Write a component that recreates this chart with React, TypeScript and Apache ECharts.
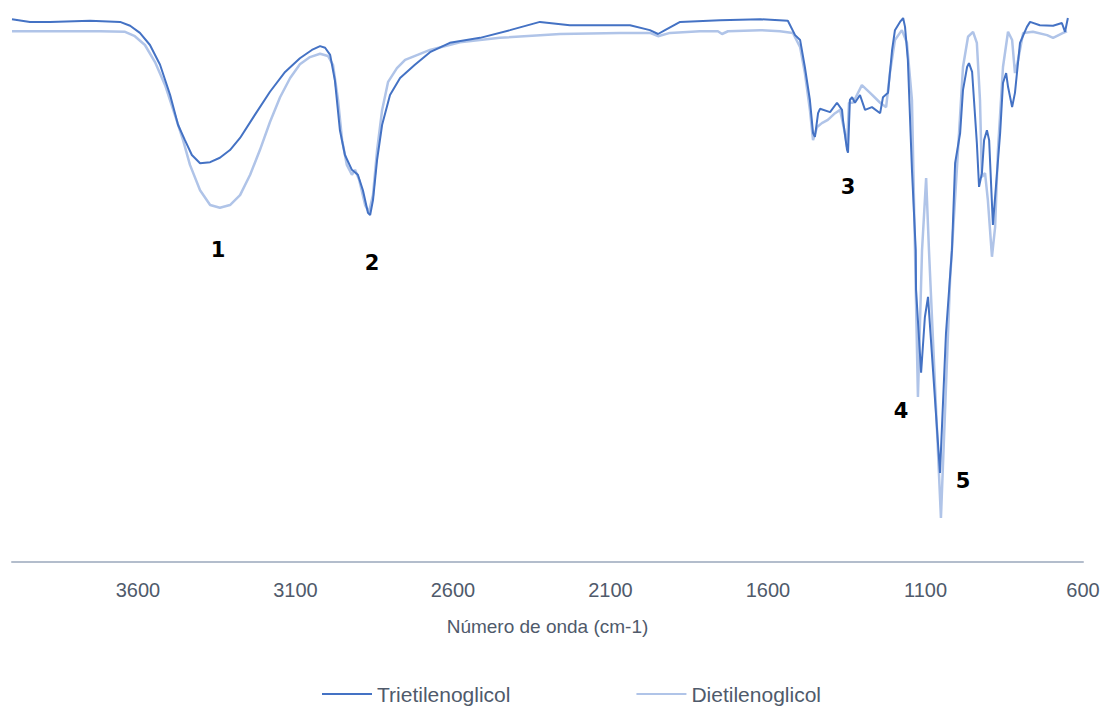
import React, { useEffect, useRef } from "react";
import * as echarts from "echarts";

// Trietilenoglicol (wavenumber cm-1, transmittance %)
const trietWavenumber = [
  4000, 3943, 3879, 3752, 3657, 3625, 3594, 3562, 3530, 3498, 3473, 3451, 3429, 3403, 3371, 3340, 3308, 3276, 3229, 3181,
  3133, 3086, 3048, 3022, 3006, 2990, 2975, 2959, 2943, 2921, 2902, 2886, 2870, 2863, 2854, 2841, 2825, 2800, 2768, 2721,
  2673, 2610, 2514, 2419, 2324, 2229, 2133, 2038, 1975, 1949, 1927, 1879, 1752, 1625, 1537, 1514, 1498, 1483, 1467, 1457,
  1451, 1441, 1435, 1403, 1381, 1365, 1362, 1349, 1346, 1340, 1333, 1324, 1308, 1292, 1270, 1244, 1235, 1219, 1206, 1197,
  1181, 1171, 1165, 1156, 1143, 1131, 1130, 1114, 1102, 1092, 1054, 1035, 1016, 1006, 990, 981, 968, 962, 952, 937,
  930, 921, 914, 905, 898, 886, 863, 854, 844, 838, 825, 816, 800, 778, 768, 737, 695, 667, 657, 648,
];
const trietValues = [
  98.7, 98.2, 98.2, 98.4, 98.2, 97.5, 96.2, 94.0, 90.4, 84.9, 79.5, 76.7, 74.0, 72.5, 72.7, 73.5, 74.9, 77.1, 81.3, 85.5,
  89.1, 91.6, 93.1, 93.8, 93.5, 92.2, 87.6, 78.5, 74.0, 71.3, 70.4, 67.6, 63.5, 63.1, 65.8, 73.1, 79.5, 84.9, 88.0, 90.4,
  92.7, 94.4, 95.3, 96.7, 98.2, 97.6, 97.6, 97.6, 96.7, 96.0, 96.7, 98.2, 98.5, 98.7, 98.4, 95.8, 94.9, 90.0, 84.0, 78.0,
  77.3, 81.6, 82.4, 81.8, 83.5, 82.2, 80.4, 74.9, 74.4, 84.0, 84.5, 83.5, 84.9, 82.2, 82.7, 81.6, 84.5, 85.3, 93.1, 96.7,
  98.2, 98.9, 97.3, 91.3, 71.3, 56.7, 49.5, 34.4, 44.5, 48.2, 16.2, 41.6, 56.7, 72.5, 78.0, 85.8, 90.0, 90.7, 89.1, 76.2,
  68.2, 70.7, 76.7, 78.5, 76.7, 61.3, 78.0, 87.1, 88.9, 86.4, 82.7, 85.3, 94.4, 97.3, 98.2, 97.6, 97.5, 98.0, 96.4, 98.9,
];

// Dietilenoglicol
const dietWavenumber = [
  4000, 3721, 3641, 3610, 3578, 3546, 3514, 3483, 3457, 3435, 3403, 3371, 3340, 3308, 3276, 3244, 3213, 3181, 3149, 3117,
  3086, 3054, 3022, 2997, 2981, 2965, 2952, 2937, 2921, 2911, 2898, 2879, 2867, 2854, 2841, 2825, 2806, 2778, 2752, 2673,
  2578, 2451, 2260, 2070, 1975, 1949, 1911, 1816, 1759, 1746, 1727, 1625, 1562, 1521, 1498, 1483, 1467, 1457, 1444, 1429,
  1410, 1387, 1371, 1356, 1349, 1343, 1330, 1302, 1276, 1244, 1225, 1213, 1197, 1175, 1159, 1143, 1124, 1111, 1098, 1089,
  1051, 1022, 1000, 981, 965, 949, 937, 927, 921, 911, 902, 889, 879, 870, 854, 838, 825, 816, 806, 790,
  759, 714, 695, 663, 651,
];
const dietValues = [
  96.5, 96.5, 96.4, 95.6, 94.0, 90.9, 86.7, 81.3, 76.7, 72.2, 67.6, 64.9, 64.4, 64.9, 66.7, 70.4, 74.9, 80.0, 84.5, 88.0,
  90.5, 91.8, 92.4, 92.0, 90.4, 84.0, 76.7, 72.2, 70.4, 71.3, 69.5, 64.9, 63.6, 66.7, 74.9, 82.2, 87.3, 89.8, 91.3, 93.1,
  94.5, 95.3, 96.0, 96.2, 96.2, 95.6, 96.2, 96.5, 96.5, 96.0, 96.5, 96.7, 96.5, 96.2, 93.6, 88.9, 82.2, 76.7, 79.1, 79.8,
  80.4, 81.6, 82.2, 78.0, 75.5, 83.5, 83.5, 86.7, 85.3, 83.5, 82.7, 88.9, 94.9, 96.7, 94.4, 84.0, 30.0, 56.7, 69.8, 56.7,
  8.0, 51.3, 71.8, 90.0, 95.5, 96.4, 94.4, 84.0, 70.0, 70.7, 65.8, 55.5, 60.9, 74.9, 90.0, 96.4, 94.9, 88.9, 91.3, 96.2,
  96.4, 95.8, 95.3, 96.2, 96.5,
];

const tickValues = [600, 1100, 1600, 2100, 2600, 3100, 3600];
const peakLabels = ["1", "2", "3", "4", "5"];

const zip = (xs: number[], ys: number[]) => xs.map((x, i) => [x, ys[i]]);

export default function App() {
  const ref = useRef<HTMLDivElement>(null);
  useEffect(() => {
    if (!ref.current) return;
    const chart = echarts.init(ref.current, null, { renderer: "svg" });
    const font = "'Liberation Sans', Arial, sans-serif";
    const labelPos = [
      [218, 250],
      [372, 263],
      [848, 187],
      [901, 411],
      [963, 481],
    ];
    chart.setOption({
      animation: false,
      backgroundColor: "#ffffff",
      grid: { left: 12, right: 21, top: 12, bottom: 144, containLabel: false },
      xAxis: {
        type: "value",
        min: 600,
        max: 4000,
        inverse: true,
        name: "Número de onda (cm-1)",
        nameLocation: "middle",
        nameGap: 55,
        nameTextStyle: { fontFamily: font, fontSize: 19, color: "#4f5a6b" },
        axisLine: { show: true, onZero: false, lineStyle: { color: "#b3bdcc", width: 2 } },
        axisTick: { show: false },
        splitLine: { show: false },
        axisLabel: {
          customValues: tickValues,
          formatter: (v: number) => String(v),
          margin: 18,
          fontFamily: font,
          fontSize: 20,
          color: "#4f5a6b",
        },
      },
      yAxis: {
        type: "value",
        min: 0,
        max: 100,
        show: false,
        splitLine: { show: false },
      },
      legend: {
        data: ["Trietilenoglicol", "Dietilenoglicol"],
        left: 317,
        top: 678,
        icon: "rect",
        itemWidth: 50,
        itemHeight: 2,
        itemGap: 126,
        textStyle: { fontFamily: font, fontSize: 21, lineHeight: 22, color: "#4f5a6b" },
      },
      graphic: peakLabels.map((t, i) => ({
        type: "text",
        x: labelPos[i][0],
        y: labelPos[i][1],
        style: {
          text: t,
          fontFamily: "'DejaVu Sans', Verdana, sans-serif",
          fontWeight: "bold",
          fontSize: 21,
          fill: "#000000",
          textAlign: "center",
          textVerticalAlign: "middle",
        },
      })),
      series: [
        {
          name: "Trietilenoglicol",
          type: "line",
          data: zip(trietWavenumber, trietValues),
          showSymbol: false,
          z: 3,
          color: "#4472c4",
          lineStyle: { color: "#4472c4", width: 2 },
        },
        {
          name: "Dietilenoglicol",
          type: "line",
          data: zip(dietWavenumber, dietValues),
          showSymbol: false,
          z: 2,
          color: "#b0c4e8",
          lineStyle: { color: "#b0c4e8", width: 2.5 },
        },
      ],
    });
    return () => chart.dispose();
  }, []);
  return (
    <div
      ref={ref}
      style={{ position: "fixed", left: 0, top: 0, width: 1104, height: 706 }}
    />
  );
}
